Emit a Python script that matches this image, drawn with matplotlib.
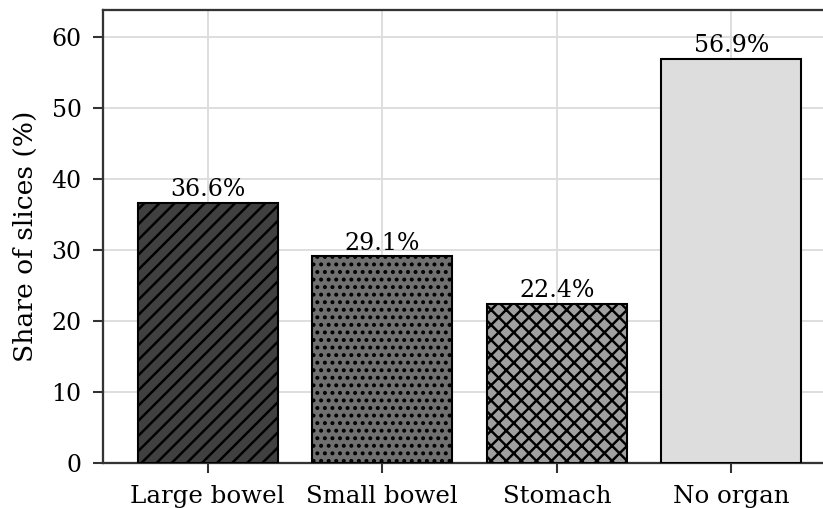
import matplotlib
matplotlib.use("Agg")
import matplotlib.pyplot as plt

categories = ["Large bowel", "Small bowel", "Stomach", "No organ"]
values = [36.6, 29.1, 22.4, 56.9]
labels = ["36.6%", "29.1%", "22.4%", "56.9%"]
colors = ["#404040", "#707070", "#a0a0a0", "#dddddd"]
hatches = ["///", "...", "xxx", ""]

plt.rcParams["font.family"] = ["DejaVu Serif"]
plt.rcParams["hatch.linewidth"] = 1.3

DPI = 136
fig = plt.figure(figsize=(823 / DPI, 508 / DPI), dpi=DPI)
W, H = 823, 508
left, right, top, bottom = 103, 836, 9.5, 463
ax = fig.add_axes([left / W, (H - bottom) / H, (right - left) / W, (bottom - top) / H])

x = list(range(len(categories)))
bars = ax.bar(x, values, width=0.8, color=colors, edgecolor="black", linewidth=1.1,
              hatch=hatches, zorder=3)
for xi, v, lab in zip(x, values, labels):
    ax.text(xi, v + 0.2, lab, ha="center", va="bottom", fontsize=12.5, zorder=4)

ax.set_xlim(-0.6, 3.6)
ax.set_ylim(0, 63.8)
ax.set_xticks(x)
ax.set_xticklabels(categories, fontsize=13)
ax.set_yticks([0, 10, 20, 30, 40, 50, 60])
ax.tick_params(axis="y", labelsize=12.5, color="#333333", width=1.1, length=5.3, pad=6)
ax.tick_params(axis="x", color="#333333", width=1.1, length=5.3, pad=6.5)
ax.set_ylabel("Share of slices (%)", fontsize=14, labelpad=7)
ax.grid(True, color="#dddddd", linewidth=1.0, zorder=0)
ax.set_axisbelow(True)
for s in ax.spines.values():
    s.set_color("#333333")
    s.set_linewidth(1.2)

fig.savefig("out.png", dpi=DPI)
